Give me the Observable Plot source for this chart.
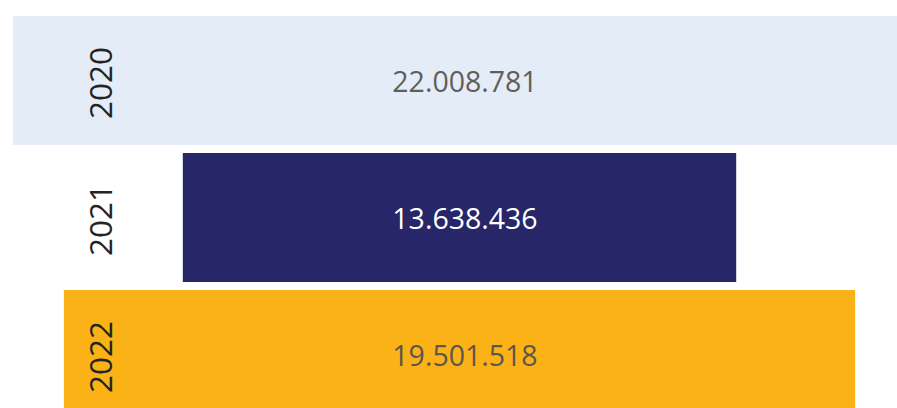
<!DOCTYPE html>
<html>
<head>
<meta charset="utf-8">
<script src="https://cdn.jsdelivr.net/npm/d3@7"></script>
<script src="https://cdn.jsdelivr.net/npm/@observablehq/plot@0.6"></script>
<style>
  html, body { margin: 0; padding: 0; background: #fff; overflow: hidden; }
  #chart svg { display: block; }
</style>
</head>
<body>
<div id="chart"></div>
<script>
// Data
const years = ["2020", "2021", "2022"];
const values = [22008781, 13638436, 19501518];

// Styles (kept separate from data)
const barColors = ["#E4ECF7", "#262668", "#FBB216"];
const valueTextColors = ["#605E5C", "#FFFFFF", "#5C5650"];
const font = "'Open Sans', 'Segoe UI', sans-serif";

const data = years.map((year, i) => ({year, value: values[i]}));
const maxV = d3.max(values);

const locale = d3.formatLocale({decimal: ",", thousands: ".", grouping: [3], currency: ["", ""]});
const fmt = locale.format(",d");
const textColorOf = new Map(years.map((y, i) => [y, valueTextColors[i]]));

const chart = Plot.plot({
  width: 897,
  height: 408,
  marginTop: 0, marginBottom: 0, marginLeft: 0, marginRight: 0,
  style: {fontFamily: font, background: "transparent", overflow: "hidden"},
  x: {domain: [-maxV / 2, maxV / 2], range: [13, 906], axis: null},
  y: {domain: years, range: [16, 419.6], paddingInner: 0.0605, paddingOuter: 0, axis: null},
  color: {domain: years, range: barColors},
  marks: [
    Plot.barX(data, {
      y: "year",
      x1: d => -d.value / 2,
      x2: d => d.value / 2,
      fill: "year",
      clip: true
    }),
    Plot.text(data, {
      x: () => 0,
      y: "year",
      text: d => fmt(d.value),
      fill: d => textColorOf.get(d.year),
      fontSize: 28.5,
      dx: 5,
      dy: 2
    }),
    Plot.text(data, {
      y: "year",
      frameAnchor: "left",
      textAnchor: "middle",
      text: "year",
      rotate: -90,
      dx: 101,
      dy: 2,
      fill: "#252423",
      fontSize: 31.5
    })
  ]
});

document.getElementById("chart").appendChild(chart);
</script>
</body>
</html>
